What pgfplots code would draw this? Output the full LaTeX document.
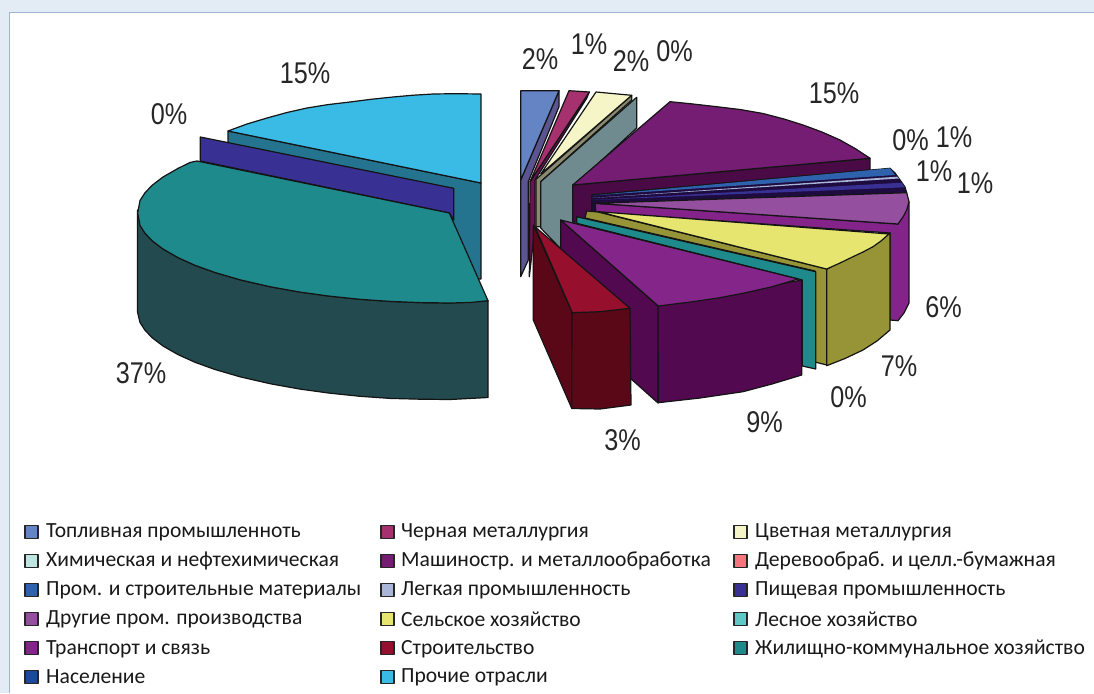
\documentclass[border=0pt]{standalone}
\usepackage{fontspec}
\usepackage{pgfplots}
\pgfplotsset{compat=1.18}
\setmainfont{Carlito}
\newfontfamily\labfont[FakeStretch=0.84]{Liberation Sans}
\definecolor{c1}{HTML}{6584C3}\definecolor{c1s}{HTML}{5A5490}
\definecolor{c2}{HTML}{A6316F}\definecolor{c2s}{HTML}{6B1252}
\definecolor{c3}{HTML}{F5F5C8}\definecolor{c3s}{HTML}{8A8A70}
\definecolor{c4}{HTML}{BFE5E1}\definecolor{c4s}{HTML}{6F8B8F}
\definecolor{c5}{HTML}{741D73}\definecolor{c5s}{HTML}{4A0A45}
\definecolor{c6}{HTML}{F5757F}
\definecolor{c7}{HTML}{2F62AD}\definecolor{c8}{HTML}{A9B6DA}
\definecolor{c9}{HTML}{383092}\definecolor{cdark}{HTML}{1E0C40}
\definecolor{c10}{HTML}{944F9F}\definecolor{c10s}{HTML}{84248A}
\definecolor{c11}{HTML}{E5E570}\definecolor{c11s}{HTML}{979337}
\definecolor{c12}{HTML}{5FC7C4}\definecolor{c12s}{HTML}{1E8A8B}
\definecolor{c13}{HTML}{84258A}\definecolor{c13s}{HTML}{52094F}
\definecolor{c14}{HTML}{960F2D}\definecolor{c14s}{HTML}{5A0818}
\definecolor{c15}{HTML}{1E8A8B}\definecolor{c15s}{HTML}{224A4F}
\definecolor{c16}{HTML}{1B4A9C}
\definecolor{c17}{HTML}{3ABBE6}\definecolor{c17s}{HTML}{24748F}
\definecolor{bgpan}{HTML}{E3EBF5}\definecolor{bgline}{HTML}{9FB4D2}
\newcommand{\lab}[2]{\node[font=\labfont\fontsize{30}{30}\selectfont,text=black!85] at (axis cs:#1) {#2};}
\newcommand{\leg}[2]{\node[anchor=west,font=\fontsize{21.6}{21.6}\selectfont,text=black!90,inner sep=0pt] at (axis cs:#1) {#2};}
\newcommand{\sq}[3]{\addplot[fill=#3,draw=black!85,line width=1.3pt] coordinates {(#1,#2-6.5) (#1+13,#2-6.5) (#1+13,#2+6.5) (#1,#2+6.5)} -- cycle;}
\begin{document}
\begin{tikzpicture}
\begin{axis}[scale only axis,width=1094pt,height=693pt,xmin=0,xmax=1094,ymin=0,ymax=693,y dir=reverse,hide axis,clip=true,
  every axis plot/.append style={line width=1.2pt,line join=round,draw=black!92,no marks}]
% background
\addplot[fill=bgpan,draw=none] coordinates {(0,0) (1094,0) (1094,693) (0,693)} -- cycle;
\addplot[fill=white,draw=none] coordinates {(9,12) (1094,12) (1094,693) (9,693)} -- cycle;
\addplot[draw=bgline,line width=1.5pt] coordinates {(9.5,693) (9.5,12.5) (1094,12.5)};
% left group
\addplot[fill=c17s] coordinates {(228,131) (481,183) (481,279) (460,279) (228,230)} -- cycle;
\addplot[fill=c17] coordinates {(481,183) (481,94) (455,93.7) (433,94) (412,95.3) (393,97) (371,99.3) (350,102) (328,104.6) (307,108) (287,112.5) (267,118) (247,124) (228,131)} -- cycle;
\addplot[fill=c9] coordinates {(200.3,137) (453.7,188.3) (453.7,220) (449.3,213) (200.3,161)} -- cycle;
\addplot[fill=c15s] coordinates {(488,300.7) (488,397.5) (450,399.5) (420,399.2) (390,398.4) (360,396.3) (330,393.2) (300,389.1) (270,383.7) (240,376.8) (215,369.5) (195,362.3) (178,354.6) (163,346) (152,337.6) (145,330.2) (140,322.5) (137.5,312) (137.5,210) (140,222) (145,233) (152,240.6) (163,249) (178,257.6) (195,265.3) (215,272.5) (240,279.8) (270,286.7) (300,292.1) (330,296.2) (360,299.3) (390,301.4) (420,302.6) (450,303)} -- cycle;
\addplot[fill=c15] coordinates {(449.3,213) (488,300.7) (470,302.5) (450,303) (420,302.6) (390,301.4) (360,299.3) (330,296.2) (300,292.1) (270,286.7) (240,279.8) (215,272.5) (195,265.3) (178,257.6) (163,249) (152,240.6) (145,233.2) (140,225.5) (137.7,213) (140,200.5) (145,192.8) (152,185.4) (163,177) (178,168.4) (190,162.5) (197,161)} -- cycle;
% right group, back to front
\addplot[fill=c1s] coordinates {(559,90.7) (520.7,180) (520.7,276.7) (528.3,260) (528.3,181.7) (559,106.7)} -- cycle;
\addplot[fill=c1] coordinates {(520.7,90.7) (559,90.7) (520.7,180)} -- cycle;
\addplot[fill=c2s] coordinates {(589.3,92) (530,181.7) (529.3,276.7) (535,226.7) (535,180) (586.7,98.3)} -- cycle;
\addplot[fill=c2] coordinates {(569,90.7) (589.3,92) (530,181.7)} -- cycle;
\addplot[fill=c3s] coordinates {(631.7,95.3) (536,179.3) (536,226.7) (540.7,226.7) (540.7,181.7) (631.7,100)} -- cycle;
\addplot[fill=c3] coordinates {(596,92) (631.7,95.3) (540.7,174)} -- cycle;
\addplot[fill=c4s] coordinates {(636.7,97.3) (540.7,181.7) (540.7,228) (560,248) (575,222) (575,185) (636.7,128)} -- cycle;
\addplot[fill=c5s] coordinates {(572.7,185) (870,158.3) (870,170) (591.7,195) (591.7,222) (572.7,222)} -- cycle;
\addplot[fill=c5] coordinates {(572.7,185) (670,101.7) (693,104) (716.7,106.7) (740,109.5) (763,113.5) (784,119) (803,125) (822,132) (840,140) (856,149) (870,158.3)} -- cycle;
% thin slices
\addplot[fill=cdark] coordinates {(591.7,195) (890,168.3) (895,173) (905,187) (906.7,193) (596,208) (596,213) (591.7,213)} -- cycle;
\addplot[fill=c7,draw=none] coordinates {(591.7,195.5) (890,168.3) (895,175)} -- cycle;
\addplot[fill=c8,draw=none] coordinates {(591.7,198) (897,176.7) (899,178.5)} -- cycle;
\addplot[fill=c9,draw=none] coordinates {(591.7,200) (901.7,182.7) (905,187.3)} -- cycle;
\addplot[fill=c10s] coordinates {(595,203.3) (898,224) (909,202) (909,303) (904,313) (898,320.7) (890,320) (890,233) (596,212)} -- cycle;
\addplot[fill=c10] coordinates {(595,203.3) (906.7,192.7) (909,201.7) (906.7,210) (903,217) (898,224)} -- cycle;
\addplot[fill=c11s] coordinates {(586.7,211) (598,212) (826.7,269) (826.7,365) (815,362) (815,271) (585,218)} -- cycle;
\addplot[fill=c11s] coordinates {(826.7,269.3) (890,232.7) (890,330) (877,341) (863,350) (845,358.5) (826.7,365.7)} -- cycle;
\addplot[fill=c11] coordinates {(598.3,211.7) (889,234) (881,241) (873,246.7) (863,252) (853,256.7) (840,263) (826.7,269)} -- cycle;
\addplot[fill=c12s] coordinates {(576.7,216.7) (815.7,271.7) (815.7,369) (802.3,366) (802.3,280) (576.7,223.3)} -- cycle;
\addplot[fill=c13s] coordinates {(560.7,220) (658,306) (658,403) (630,378) (560.7,300)} -- cycle;
\addplot[fill=c13s] coordinates {(658,306) (801.7,280) (801.7,375) (772,384) (743,391.7) (700,398) (658.3,402.7)} -- cycle;
\addplot[fill=c13] coordinates {(560.7,220) (798.3,279) (771,287) (743,293.3) (718,298) (693,301.7) (658.3,306)} -- cycle;
\addplot[fill=c14s] coordinates {(533.3,225) (571.7,311.7) (571.7,408.3) (533.3,320)} -- cycle;
\addplot[fill=c14s] coordinates {(572,312.7) (630,308.3) (631,405) (600,409) (571.7,408.5)} -- cycle;
\addplot[fill=c14] coordinates {(535,226.7) (630,308.3) (600,311.7) (572.3,312.7)} -- cycle;
% labels
\lab{540,59}{2\%}\lab{589,44}{1\%}\lab{631,61}{2\%}\lab{674.5,51}{0\%}
\lab{834,93}{15\%}\lab{910.5,140.5}{0\%}\lab{954,137}{1\%}\lab{934,171.5}{1\%}\lab{975,183}{1\%}
\lab{943.5,307.5}{6\%}\lab{899,366}{7\%}\lab{848.5,397}{0\%}\lab{764.5,422}{9\%}\lab{622.5,440}{3\%}
\lab{141,373}{37\%}\lab{169,114}{0\%}\lab{305,73}{15\%}
% legend
\sq{25}{531.7}{c1}\sq{381}{531.7}{c2}\sq{734}{531.7}{c3}
\sq{25}{560.7}{c4}\sq{381}{560.7}{c5}\sq{734}{560.7}{c6}
\sq{25}{590}{c7}\sq{381}{590}{c8}\sq{734}{590}{c9}
\sq{25}{619.3}{c10}\sq{381}{619.3}{c11}\sq{734}{619.3}{c12}
\sq{25}{648.3}{c13}\sq{381}{648.3}{c14}\sq{734}{648.3}{c15}
\sq{25}{676.7}{c16}\sq{381}{676.7}{c17}
\leg{46,532}{Топливная промышленноть}\leg{401,532}{Черная металлургия}\leg{755,532}{Цветная металлургия}
\leg{46,561}{Химическая и нефтехимическая}\leg{401,561}{Машиностр. и металлообработка}\leg{755,561}{Деревообраб. и целл.-бумажная}
\leg{46,590.5}{Пром. и строительные материалы}\leg{401,590.5}{Легкая промышленность}\leg{755,590.5}{Пищевая промышленность}
\leg{46,619.5}{Другие пром. производства}\leg{401,619.5}{Сельское хозяйство}\leg{755,619.5}{Лесное хозяйство}
\leg{46,649}{Транспорт и связь}\leg{401,649}{Строительство}\leg{755,649}{Жилищно-коммунальное хозяйство}
\leg{46,677}{Население}\leg{401,677}{Прочие отрасли}
\end{axis}
\end{tikzpicture}
\end{document}
